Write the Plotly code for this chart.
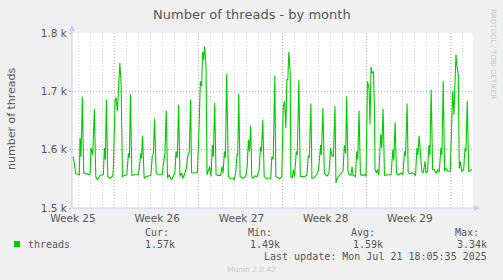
import plotly.graph_objects as go

# ---- data (hours since start of window, threads) ----
hours = [2.6, 7.4, 14.6, 16, 18, 20.6, 23.4, 36, 38, 41.4, 44.6, 47.4, 50.6, 56, 62.6, 64.6, 66.6, 68.6, 71.4, 76,
         81.4, 82.6, 86, 88, 90.6, 92.6, 95.4, 98, 100.6, 106, 109.4, 112.6, 114.6, 116.6, 119.4, 126, 132.6,
         137.4, 138.6, 140.6, 144, 148.6, 157.4, 160, 162.6, 164.6, 168, 172, 180, 182, 185.4, 188, 190.6, 193.4,
         196, 198.6, 202, 205.4, 207.4, 210, 212.6, 215.4, 218.6, 221.4, 225.4, 228.6, 230.6, 234, 236.6, 238.6,
         242, 250, 253.4, 256, 258.6, 260.6, 262.6, 264.6, 267.4, 269.4,
         274.6, 277.4, 280, 282, 284.6, 287.4, 291.4, 296.6, 299.4, 301.4, 304, 306, 308.6, 312, 314.6, 321.4,
         323.4, 326.6, 329.4, 330.6, 332.6, 335.4, 341.4, 346.6, 349.4, 352, 354, 356.6, 358.6, 361.4, 364.6,
         369.4, 373.4, 376, 378, 380.6, 383.4, 388, 396.6, 398.6, 401.4, 404.6, 406.6,
         410.6, 414, 418.6, 421.4, 424, 426.6, 428.6, 430.6, 432.6, 435.4, 436.6, 439.4, 441.4, 444, 447.4, 449.4,
         452.6, 455.4, 464, 468.6, 471.4, 473.4, 476.6, 478.6, 482, 485.4, 489.4, 492, 496, 497.4, 500.6, 503.4,
         506, 509.4, 512.6, 516, 518, 521.4, 524.6, 526.6, 529.4, 534, 537.4, 540.6,
         543.4, 546, 548, 550.6, 553.4, 556.6, 558.6, 560.6, 565.4, 568, 570, 572.6, 575.4, 580, 584, 586.6,
         589.4, 592.6, 594.6, 596.6, 598.6, 601.4, 603.4, 604.6, 607.4, 609.4, 612, 616, 618, 620.6, 623.4, 630,
         636.6, 640, 642, 644.6, 647.4, 652, 656.6, 660, 663.4, 665.4, 668.6, 670.6, 673.4, 678,
         682.6, 685.4, 688, 690, 692.6, 696, 698, 700.6, 704.6, 706, 709.4, 712, 714, 716.6, 719.4, 722.6, 726.6,
         729.4, 732.6, 736, 738, 740.6, 743.4, 746.6, 749.4, 754.6, 758, 759.4, 762, 763.4, 766, 768, 770.6,
         772.6, 774.6, 777.4, 781.4, 784, 786, 788.6, 791.4, 794, 798]
threads = [1588, 1559, 1557, 1620, 1588, 1691, 1560, 1557, 1603, 1591, 1670, 1554, 1548, 1556, 1557, 1603, 1583, 1686, 1554, 1551,
           1555, 1570, 1686, 1689, 1666, 1714, 1749, 1714, 1554, 1556, 1557, 1594, 1586, 1695, 1556, 1557, 1557,
           1594, 1585, 1624, 1551, 1554, 1556, 1588, 1594, 1653, 1560, 1557, 1557, 1574, 1594, 1667, 1551, 1557,
           1551, 1548, 1554, 1560, 1597, 1586, 1677, 1554, 1560, 1551, 1560, 1570, 1588, 1597, 1686, 1560,
           1560, 1561, 1634, 1717, 1709, 1768, 1754, 1777, 1743, 1557,
           1571, 1554, 1608, 1588, 1680, 1557, 1556, 1556, 1571, 1560, 1597, 1586, 1730, 1554, 1551, 1551,
           1548, 1560, 1594, 1590, 1696, 1554, 1551, 1554, 1570, 1617, 1597, 1641, 1554, 1551, 1555,
           1554, 1565, 1605, 1597, 1651, 1554, 1551, 1551, 1588, 1583, 1727, 1554,
           1551, 1550, 1554, 1674, 1683, 1637, 1720, 1720, 1768, 1731, 1554, 1551, 1566, 1554, 1597, 1591,
           1720, 1554, 1554, 1556, 1590, 1586, 1679, 1551, 1551, 1554, 1560, 1566, 1608, 1591, 1671, 1560,
           1557, 1555, 1560, 1603, 1591, 1588, 1675, 1543, 1551, 1557, 1560, 1563,
           1608, 1593, 1691, 1563, 1557, 1556, 1571, 1556, 1554, 1597, 1583, 1667, 1557, 1556, 1557, 1554,
           1717, 1705, 1643, 1742, 1731, 1734, 1668, 1566, 1560, 1566, 1557, 1627, 1603, 1670, 1556, 1557,
           1557, 1600, 1582, 1647, 1559, 1557, 1560, 1557, 1597, 1590, 1679, 1562, 1559, 1560,
           1559, 1555, 1603, 1591, 1624, 1583, 1563, 1560, 1580, 1560, 1563, 1608, 1590, 1703, 1566, 1566, 1559,
           1566, 1561, 1603, 1591, 1718, 1563, 1568, 1563, 1563, 1691, 1700, 1660, 1710, 1763, 1743, 1729,
           1568, 1580, 1563, 1566, 1603, 1597, 1684, 1563, 1564, 1566]

week_pos = [2, 170, 338, 506, 674]
week_labels = ["Week 25", "Week 26", "Week 27", "Week 28", "Week 29"]
week_lines = [84, 252, 420, 588, 756]
y_ticks = [1500, 1600, 1700, 1800]
y_labels = ["1.5 k", "1.6 k", "1.7 k", "1.8 k"]

series_name = "threads"
stat_heads = ["Cur:", "Min:", "Avg:", "Max:"]
stat_vals = ["1.57k", "1.49k", "1.59k", "3.34k"]

W, H = 503, 280
L, R, T, B = 72, 30, 33, 72
PW, PH = W - L - R, H - T - B


def px(x):
    return (x - L) / PW


def py(y):
    return (H - B - y) / PH


TXT = "#555555"
SANS = "DejaVu Sans"
MONO = "DejaVu Sans Mono"
AXC = "#c8c8f4"
RED = "#eaa0a0"

fig = go.Figure()
fig.add_trace(go.Scatter(x=hours, y=threads, mode="lines",
                         line=dict(color="#00cc00", width=1.1), showlegend=False,
                         hoverinfo="skip"))

shapes = []
for h in week_lines:
    shapes.append(dict(type="line", xref="x", yref="y", x0=h, x1=h, y0=1500, y1=1800,
                       line=dict(color=RED, width=1, dash="1px,2px"), layer="between"))
# axis lines and arrows
shapes.append(dict(type="line", xref="paper", yref="paper", x0=0, x1=0, y0=0, y1=py(27),
                   line=dict(color=AXC, width=1)))
shapes.append(dict(type="line", xref="paper", yref="paper", x0=0, x1=px(477), y0=0, y1=0,
                   line=dict(color=AXC, width=1)))
shapes.append(dict(type="path", xref="paper", yref="paper",
                   path=f"M {px(69)} {py(31)} L {px(75)} {py(31)} L {px(72)} {py(25)} Z",
                   fillcolor=AXC, line=dict(color=AXC, width=0)))
shapes.append(dict(type="path", xref="paper", yref="paper",
                   path=f"M {px(474)} {py(205)} L {px(474)} {py(211)} L {px(480)} {py(208)} Z",
                   fillcolor=AXC, line=dict(color=AXC, width=0)))
shapes.append(dict(type="rect", xref="paper", yref="paper",
                   x0=px(14), x1=px(20), y0=py(247), y1=py(241),
                   fillcolor="#00cc00", line=dict(width=0)))

ann = []
ann.append(dict(text="Number of threads - by month", x=px(251.5), y=py(14), showarrow=False,
                font=dict(family=SANS, size=13, color=TXT), xanchor="center", yanchor="middle"))
ann.append(dict(text="number of threads", x=px(11), y=py(119), showarrow=False, textangle=-90,
                font=dict(family=SANS, size=11, color=TXT), xanchor="center", yanchor="middle"))
ann.append(dict(text="RRDTOOL / TOBI OETIKER", x=px(493), y=py(54), showarrow=False, textangle=90,
                font=dict(family=SANS, size=7, color="#c8c8c8"), xanchor="center", yanchor="middle"))
ann.append(dict(text=series_name, x=px(26), y=py(244), showarrow=False,
                font=dict(family=MONO, size=10, color=TXT), xanchor="left", yanchor="middle"))
head_x = [143, 246, 349, 453]
val_right = [177, 282, 385, 489]
for hx, t in zip(head_x, stat_heads):
    ann.append(dict(text=t, x=px(hx), y=py(232), showarrow=False,
                    font=dict(family=MONO, size=10, color=TXT), xanchor="left", yanchor="middle"))
for vx, t in zip(val_right, stat_vals):
    ann.append(dict(text=t, x=px(vx), y=py(244), showarrow=False,
                    font=dict(family=MONO, size=10, color=TXT), xanchor="right", yanchor="middle"))
ann.append(dict(text="Last update: Mon Jul 21 18:05:35 2025", x=px(489), y=py(256), showarrow=False,
                font=dict(family=MONO, size=10, color=TXT), xanchor="right", yanchor="middle"))
ann.append(dict(text="Munin 2.0.42", x=px(251.5), y=py(269), showarrow=False,
                font=dict(family=SANS, size=7.5, color="#c8c8c8"), xanchor="center", yanchor="middle"))
for a in ann:
    a["xref"] = "paper"
    a["yref"] = "paper"

fig.update_layout(
    width=W, height=H, margin=dict(l=L, r=R, t=T, b=B, pad=0),
    paper_bgcolor="#f0f0f0", plot_bgcolor="#ffffff",
    shapes=shapes, annotations=ann, showlegend=False,
    xaxis=dict(range=[0, 800], tickmode="array", tickvals=week_pos, ticktext=week_labels,
               showgrid=False, zeroline=False, showline=False, ticks="",
               ticklabelstandoff=2,
               tickfont=dict(family=SANS, size=10.5, color=TXT),
               minor=dict(tick0=12, dtick=24, showgrid=True, gridcolor="#d4d4d4",
                          griddash="1px,2px", gridwidth=1, ticks="")),
    yaxis=dict(range=[1500, 1800], tickmode="array", tickvals=y_ticks, ticktext=y_labels,
               showgrid=True, gridcolor=RED, griddash="1px,2px", gridwidth=1,
               zeroline=False, showline=False, ticks="outside", ticklen=2, tickcolor=RED,
               tickfont=dict(family=SANS, size=10.5, color=TXT)),
)

fig.write_html("out.html")
